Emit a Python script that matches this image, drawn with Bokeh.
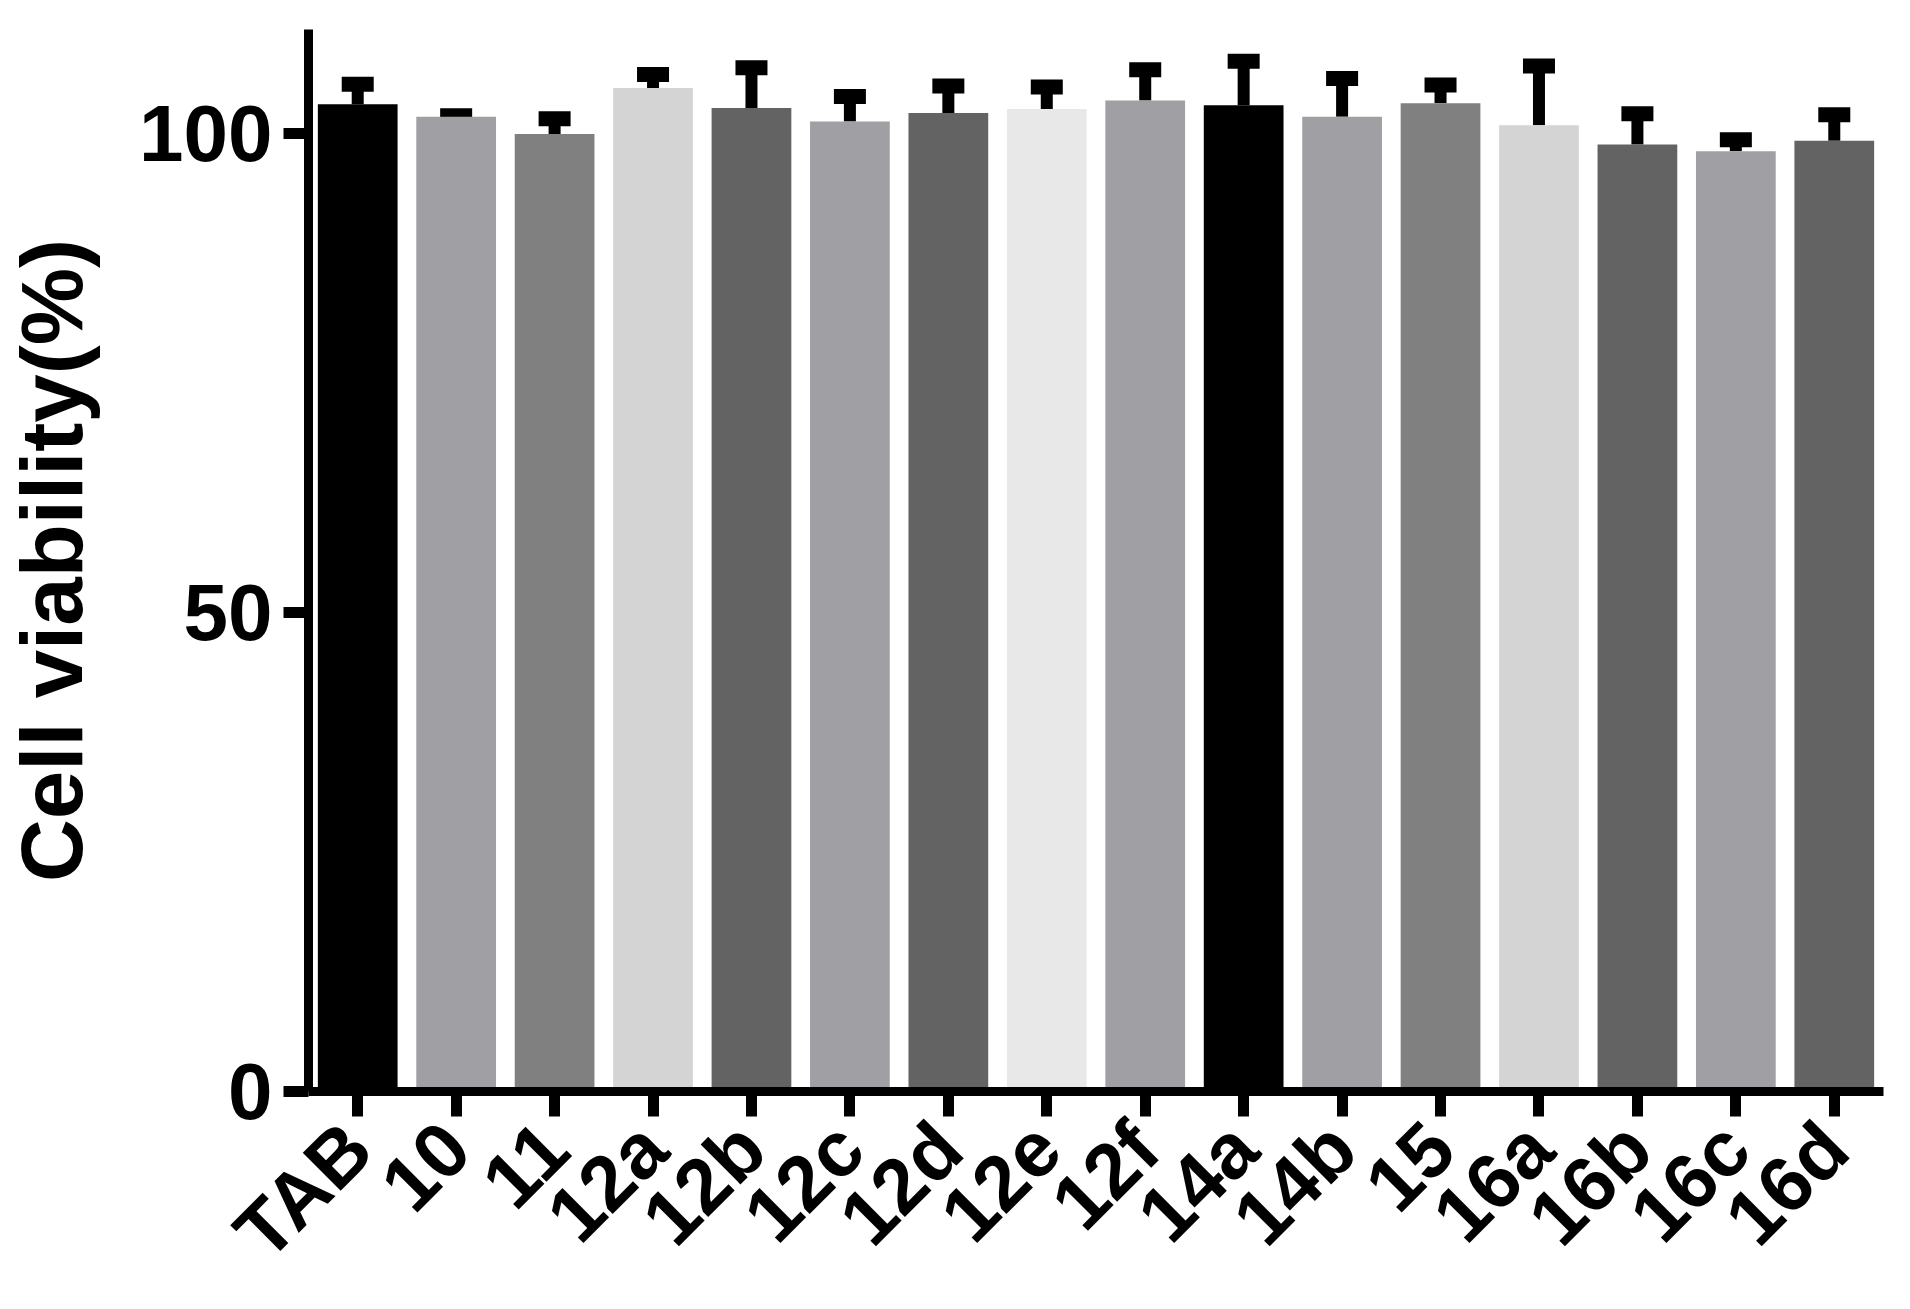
import math
from bokeh.plotting import figure
from bokeh.models import FactorRange, Range1d, Whisker, TeeHead, ColumnDataSource, FixedTicker
from bokeh.embed import file_html
from bokeh.resources import INLINE

compounds = ["TAB", "10", "11", "12a", "12b", "12c", "12d", "12e", "12f",
             "14a", "14b", "15", "16a", "16b", "16c", "16d"]
viability = [103.0, 101.7, 99.9, 104.7, 102.6, 101.2, 102.1, 102.5, 103.4,
             102.9, 101.7, 103.1, 100.8, 98.8, 98.1, 99.2]
sd = [2.1, 0.1, 1.6, 1.4, 4.2, 2.6, 2.8, 2.3, 3.2,
      4.6, 4.0, 1.9, 6.2, 3.2, 1.2, 2.7]
bar_colors = ["#000000", "#A0A0A4", "#808080", "#D4D4D4", "#636363", "#A0A0A4",
              "#636363", "#E8E8E8", "#A0A0A4", "#000000", "#A0A0A4", "#808080",
              "#D4D4D4", "#636363", "#A0A0A4", "#636363"]
y_ticks = [0, 50, 100]
y_label = "Cell viability(%)"

src = ColumnDataSource(dict(
    x=compounds, top=viability, color=bar_colors,
    upper=[v + e for v, e in zip(viability, sd)],
))

FONT = "Liberation Sans"

p = figure(width=1910, height=1309, x_range=FactorRange(factors=compounds),
           y_range=Range1d(0, 110.8), output_backend="svg", toolbar_location=None,
           min_border_left=305, min_border_right=27, min_border_top=29,
           min_border_bottom=216)
p.outline_line_color = None
p.background_fill_color = "white"
p.border_fill_color = "white"
p.xgrid.grid_line_color = None
p.ygrid.grid_line_color = None

p.vbar(x="x", top="top", width=0.81, fill_color="color", line_color=None, source=src)

wh = Whisker(source=src, base="x", lower="top", upper="upper", dimension="height",
             line_width=12, line_color="black", line_cap="butt",
             upper_head=TeeHead(size=32, line_width=15, line_color="black"),
             lower_head=None)
p.add_layout(wh)

for ax in (p.xaxis[0], p.yaxis[0]):
    ax.axis_line_width = 9
    ax.axis_line_color = "black"
    ax.major_tick_line_width = 11
    ax.major_tick_line_color = "black"
    ax.major_tick_out = 25
    ax.major_tick_in = 0
    ax.minor_tick_line_color = None
    ax.major_label_text_font = FONT
    ax.major_label_text_font_style = "bold"
    ax.major_label_text_font_size = "80px"
    ax.major_label_text_color = "black"

p.xaxis.major_label_orientation = math.pi / 4
p.xaxis.major_label_text_font_size = "78px"
p.xaxis.major_label_standoff = 19

p.yaxis.ticker = FixedTicker(ticks=y_ticks)
p.yaxis.major_label_standoff = 11
p.yaxis.axis_label = y_label
p.yaxis.axis_label_text_font = FONT
p.yaxis.axis_label_text_font_style = "bold"
p.yaxis.axis_label_text_font_size = "87px"
p.yaxis.axis_label_text_color = "black"
p.yaxis.axis_label_standoff = 36

open("out.html", "w").write(file_html(p, INLINE))
